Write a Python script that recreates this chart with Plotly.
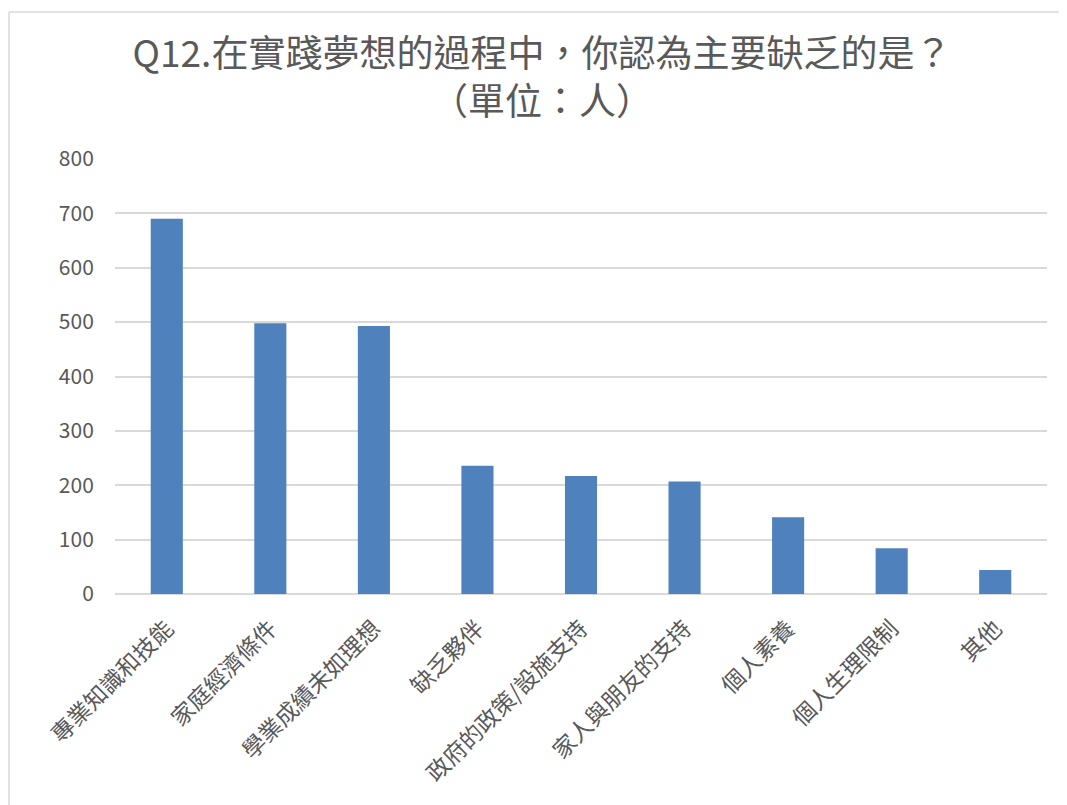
import plotly.graph_objects as go

categories = ["專業知識和技能", "家庭經濟條件", "學業成績未如理想", "缺乏夥伴",
              "政府的政策/設施支持", "家人與朋友的支持", "個人素養", "個人生理限制", "其他"]
values = [690, 498, 493, 236, 217, 207, 141, 84, 44]
y_ticks = [0, 100, 200, 300, 400, 500, 600, 700, 800]
title_text = "Q12.在實踐夢想的過程中，你認為主要缺乏的是？<br>（單位：人）"

# page body has an 8px margin; compensate so the chart lands where the reference has it
OFF = 8
W, H = 1067 - OFF, 805 - OFF
ml, mr, mt = 115 - OFF, 20, 159 - OFF
mb = H - mt - 435

fig = go.Figure(go.Bar(x=categories, y=values, marker=dict(color="#4f81bd", line=dict(width=0))))

fig.update_layout(
    width=W, height=H,
    margin=dict(l=ml, r=mr, t=mt, b=mb, pad=0, autoexpand=False),
    paper_bgcolor="white", plot_bgcolor="white",
    bargap=0.69,
    showlegend=False,
    font=dict(family="Noto Sans CJK TC, Noto Sans, sans-serif", color="#595959"),
    title=dict(text=title_text, x=(542 - OFF) / W, xref="container", xanchor="center",
               y=1 - 59 / H, yref="container", yanchor="top",
               font=dict(size=37, color="#595959")),
    xaxis=dict(tickangle=-45, tickfont=dict(size=23, color="#595959"), automargin=False,
               showgrid=False, showline=False, ticks="outside", ticklen=11,
               tickcolor="rgba(0,0,0,0)"),
    yaxis=dict(range=[0, 800], tickvals=y_ticks, tickfont=dict(size=21, color="#595959"),
               automargin=False,
               showgrid=True, gridcolor="#d9d9d9", gridwidth=1.5,
               zeroline=True, zerolinecolor="#d9d9d9", zerolinewidth=1.5,
               showline=False, ticks="outside", ticklen=16, tickcolor="rgba(0,0,0,0)"),
)

# outer chart border (top and left edges visible in the reference)
pw, ph = W - ml - mr, H - mt - mb
x0 = -(ml - 1) / pw
y_top = 1 + (mt - (12 - OFF)) / ph
y_bot = -(mb + 5) / ph
x_right = 1 + (mr + 5) / pw
fig.add_shape(type="line", xref="paper", yref="paper", x0=x0, x1=x_right, y0=y_top, y1=y_top,
              line=dict(color="#d9d9d9", width=1.5))
fig.add_shape(type="line", xref="paper", yref="paper", x0=x0, x1=x0, y0=y_bot, y1=y_top,
              line=dict(color="#d9d9d9", width=1.5))

fig.write_html("out.html")
